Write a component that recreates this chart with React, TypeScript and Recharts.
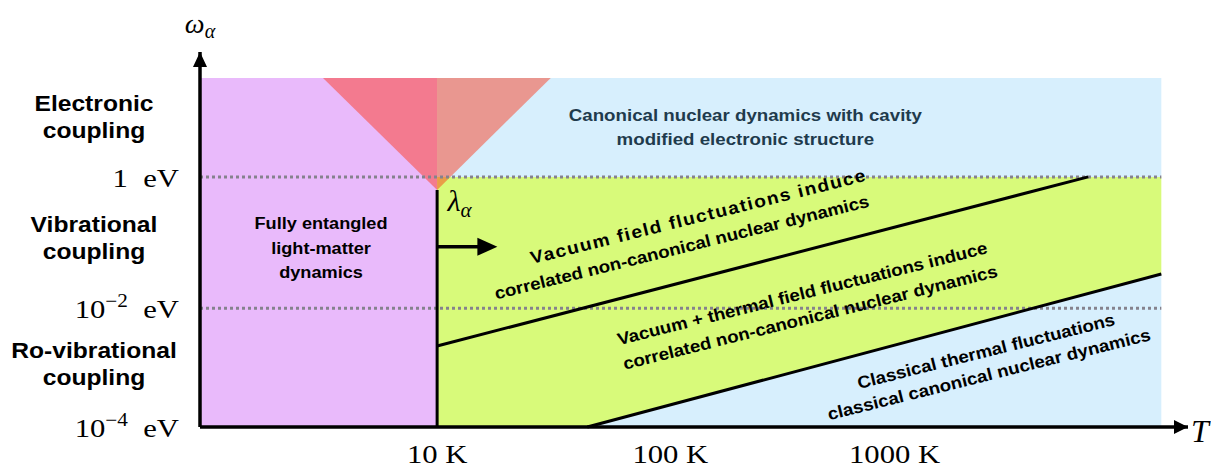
import React from 'react';
import { ComposedChart, Area, Line, Scatter, XAxis, YAxis } from 'recharts';

const SERIF = '"Liberation Serif", "Times New Roman", serif';
const SANS = '"Liberation Sans", Arial, Helvetica, sans-serif';
const SERIF_STRETCH = 1.18;
const SANS_STRETCH = 1.1;
const TILT = -14;

// Schematic axes: t runs along temperature, w along the coupling energy (both 0–100)
const tempTicks = [24.0, 47.6, 70.3];
const tempLabels = ['10\u00A0K', '100\u00A0K', '1000\u00A0K'];

const energyTicks = [0, 31.7, 66.7];
const energyExponents = ['\u22124', '\u22122', ''];

const couplingCenters = [16.8, 50.4, 82.7];
const couplingNames = [
  ['Ro-vibrational', 'coupling'],
  ['Vibrational', 'coupling'],
  ['Electronic', 'coupling'],
];

// Regimes (range areas: w = [lower, upper])
const entangledRegion = [
  { t: 0, w: [0, 93.1] },
  { t: 24.0, w: [0, 93.1] },
];
const electronicRegion = [
  { t: 24.0, w: [66.7, 93.1] },
  { t: 97.3, w: [66.7, 93.1] },
];
const correlatedRegion = [
  { t: 24.0, w: [0, 66.7] },
  { t: 39.2, w: [0, 66.7] },
  { t: 97.3, w: [40.8, 66.7] },
];
const classicalRegion = [
  { t: 39.2, w: [0, 0] },
  { t: 97.3, w: [0, 40.8] },
];
const crossoverRegion = [
  { t: 12.45, w: [93.1, 93.1] },
  { t: 24.0, w: [63.2, 93.1] },
  { t: 35.5, w: [93.1, 93.1] },
];

// Boundaries
const electronicLevel = [
  { t: 0, w: 66.7 },
  { t: 97.3, w: 66.7 },
];
const vibrationalLevel = [
  { t: 0, w: 31.7 },
  { t: 97.3, w: 31.7 },
];
const lambdaBoundary = [
  { t: 24.0, w: 63.2 },
  { t: 24.0, w: 0 },
];
const vacuumBoundary = [
  { t: 24.0, w: 21.6 },
  { t: 89.9, w: 66.7 },
];
const thermalBoundary = [
  { t: 39.2, w: 0 },
  { t: 97.3, w: 40.8 },
];
const lambdaShaft = [
  { t: 24.0, w: 48.1 },
  { t: 28.2, w: 48.1 },
];

const arrowHeads = [
  { t: 0, w: 100, dir: 'up' },
  { t: 100, w: 0, dir: 'right' },
  { t: 30.1, w: 48.1, dir: 'lambda' },
];

const canonicalLines = [
  { t: 55.2, w: 81.6, text: 'Canonical nuclear dynamics with cavity' },
  { t: 55.2, w: 75.2, text: 'modified electronic structure' },
];
const entangledLines = [
  { t: 12.25, w: 52.8, text: 'Fully entangled' },
  { t: 12.25, w: 46.1, text: 'light-matter' },
  { t: 12.25, w: 39.7, text: 'dynamics' },
];
const vacuumHeadline = [{ t: 50.6, w: 54.6, text: 'Vacuum field fluctuations induce' }];
const tiltedLines = [
  { t: 48.9, w: 46.4, text: 'correlated non-canonical nuclear dynamics' },
  { t: 61.1, w: 34.1, text: 'Vacuum + thermal field fluctuations induce' },
  { t: 61.9, w: 27.7, text: 'correlated non-canonical nuclear dynamics' },
  { t: 79.7, w: 18.7, text: 'Classical thermal fluctuations' },
  { t: 80.0, w: 12.5, text: 'classical canonical nuclear dynamics' },
];

const TempTick = ({ x, payload }: any) => {
  const i = tempTicks.indexOf(payload.value);
  return (
    <g transform={`translate(${x},463) scale(${SERIF_STRETCH},1)`}>
      <text textAnchor="middle" fontFamily={SERIF} fontSize={26} fill="#000">
        {tempLabels[i]}
      </text>
    </g>
  );
};

const EnergyTick = ({ y, payload }: any) => {
  const i = energyTicks.indexOf(payload.value);
  if (i >= 0) {
    const exp = energyExponents[i];
    return (
      <g transform={`translate(179,${y + 10}) scale(${SERIF_STRETCH},1)`}>
        <text textAnchor="end" fontFamily={SERIF} fontSize={26} fill="#000">
          {exp ? (
            <>
              <tspan>10</tspan>
              <tspan dy={-11} fontSize={18}>{exp}</tspan>
              <tspan dy={11}>{'\u2002eV'}</tspan>
            </>
          ) : (
            '1\u2002eV'
          )}
        </text>
      </g>
    );
  }
  const j = couplingCenters.indexOf(payload.value);
  if (j < 0) return <g />;
  return (
    <g transform={`translate(94,${y}) scale(1.12,1)`}>
      <text textAnchor="middle" fontFamily={SANS} fontWeight="bold" fontSize={22} fill="#000">
        <tspan x={0} y={-6}>{couplingNames[j][0]}</tspan>
        <tspan x={0} y={21}>{couplingNames[j][1]}</tspan>
      </text>
    </g>
  );
};

const ArrowHead = ({ cx, cy, payload }: any) => {
  if (payload.dir === 'up') {
    return (
      <g>
        <polygon points={`${cx},${cy} ${cx - 7},${cy + 15} ${cx + 7},${cy + 15}`} fill="#000" />
        <text x={cx} y={cy - 19} textAnchor="middle" fontFamily={SERIF} fontStyle="italic" fontSize={28} fill="#000">
          ω<tspan fontSize={20} dy={5}>α</tspan>
        </text>
      </g>
    );
  }
  if (payload.dir === 'right') {
    return (
      <g>
        <polygon points={`${cx},${cy} ${cx - 14},${cy - 7} ${cx - 14},${cy + 7}`} fill="#000" />
        <text x={cx + 3} y={cy + 15} fontFamily={SERIF} fontStyle="italic" fontSize={32} fill="#000">
          T
        </text>
      </g>
    );
  }
  return (
    <g>
      <polygon points={`${cx},${cy} ${cx - 20},${cy - 9} ${cx - 20},${cy + 9}`} fill="#000" />
      <text x={cx - 50} y={cy - 36} fontFamily={SERIF} fontStyle="italic" fontSize={30} fill="#000">
        λ<tspan fontSize={21} dy={6}>α</tspan>
      </text>
    </g>
  );
};

const makeNote =
  (opts: { tilt: number; color: string; size: number; spacing?: number }) =>
  ({ cx, cy, payload }: any) => (
    <g transform={`translate(${cx},${cy}) rotate(${opts.tilt}) scale(${SANS_STRETCH},1)`}>
      <text
        textAnchor="middle"
        fontFamily={SANS}
        fontWeight="bold"
        fontSize={opts.size}
        letterSpacing={opts.spacing ?? 0}
        fill={opts.color}
      >
        {payload.text}
      </text>
    </g>
  );

const CanonicalNote = makeNote({ tilt: 0, color: '#1f3b4d', size: 17 });
const EntangledNote = makeNote({ tilt: 0, color: '#000', size: 16.5 });
const TiltedNote = makeNote({ tilt: TILT, color: '#000', size: 17 });
const HeadlineNote = makeNote({ tilt: TILT, color: '#000', size: 17.5, spacing: 1.3 });

const areaProps = {
  dataKey: 'w',
  type: 'linear' as const,
  stroke: 'none',
  fillOpacity: 1,
  dot: false,
  activeDot: false,
  isAnimationActive: false,
};

const lineProps = {
  dataKey: 'w',
  type: 'linear' as const,
  dot: false,
  activeDot: false,
  isAnimationActive: false,
};

export default function App() {
  return (
    <div style={{ position: 'absolute', left: 0, top: 0, background: '#fff' }}>
      <ComposedChart width={1211} height={467} margin={{ top: 52, right: 23, bottom: 0, left: 0 }}>
        <XAxis
          type="number"
          dataKey="t"
          domain={[0, 100]}
          ticks={tempTicks}
          interval={0}
          tickLine={false}
          axisLine={{ stroke: '#000', strokeWidth: 3.5 }}
          height={40}
          tick={(p: any) => <TempTick {...p} />}
        />
        <YAxis
          type="number"
          domain={[0, 100]}
          ticks={[...energyTicks, ...couplingCenters].sort((a, b) => a - b)}
          interval={0}
          tickLine={false}
          axisLine={{ stroke: '#000', strokeWidth: 3.5 }}
          width={200}
          tick={(p: any) => <EnergyTick {...p} />}
        />

        <Area {...areaProps} data={entangledRegion} fill="#e9bafb" />
        <Area {...areaProps} data={electronicRegion} fill="#d7effd" />
        <Area {...areaProps} data={correlatedRegion} fill="#d8fa7a" />
        <Area {...areaProps} data={classicalRegion} fill="#d7effd" />
        <Area {...areaProps} data={crossoverRegion} fill="#ff2d0a" fillOpacity={0.45} />

        <Line {...lineProps} data={electronicLevel} stroke="#85828d" strokeWidth={3} strokeDasharray="3 3" />
        <Line {...lineProps} data={vibrationalLevel} stroke="#85828d" strokeWidth={3} strokeDasharray="3 3" />
        <Line {...lineProps} data={lambdaBoundary} stroke="#000" strokeWidth={3} />
        <Line {...lineProps} data={vacuumBoundary} stroke="#000" strokeWidth={3} />
        <Line {...lineProps} data={thermalBoundary} stroke="#000" strokeWidth={3} />
        <Line {...lineProps} data={lambdaShaft} stroke="#000" strokeWidth={3.5} />

        <Scatter data={canonicalLines} dataKey="w" shape={CanonicalNote} isAnimationActive={false} />
        <Scatter data={entangledLines} dataKey="w" shape={EntangledNote} isAnimationActive={false} />
        <Scatter data={vacuumHeadline} dataKey="w" shape={HeadlineNote} isAnimationActive={false} />
        <Scatter data={tiltedLines} dataKey="w" shape={TiltedNote} isAnimationActive={false} />
        <Scatter data={arrowHeads} dataKey="w" shape={ArrowHead} isAnimationActive={false} />
      </ComposedChart>
    </div>
  );
}
